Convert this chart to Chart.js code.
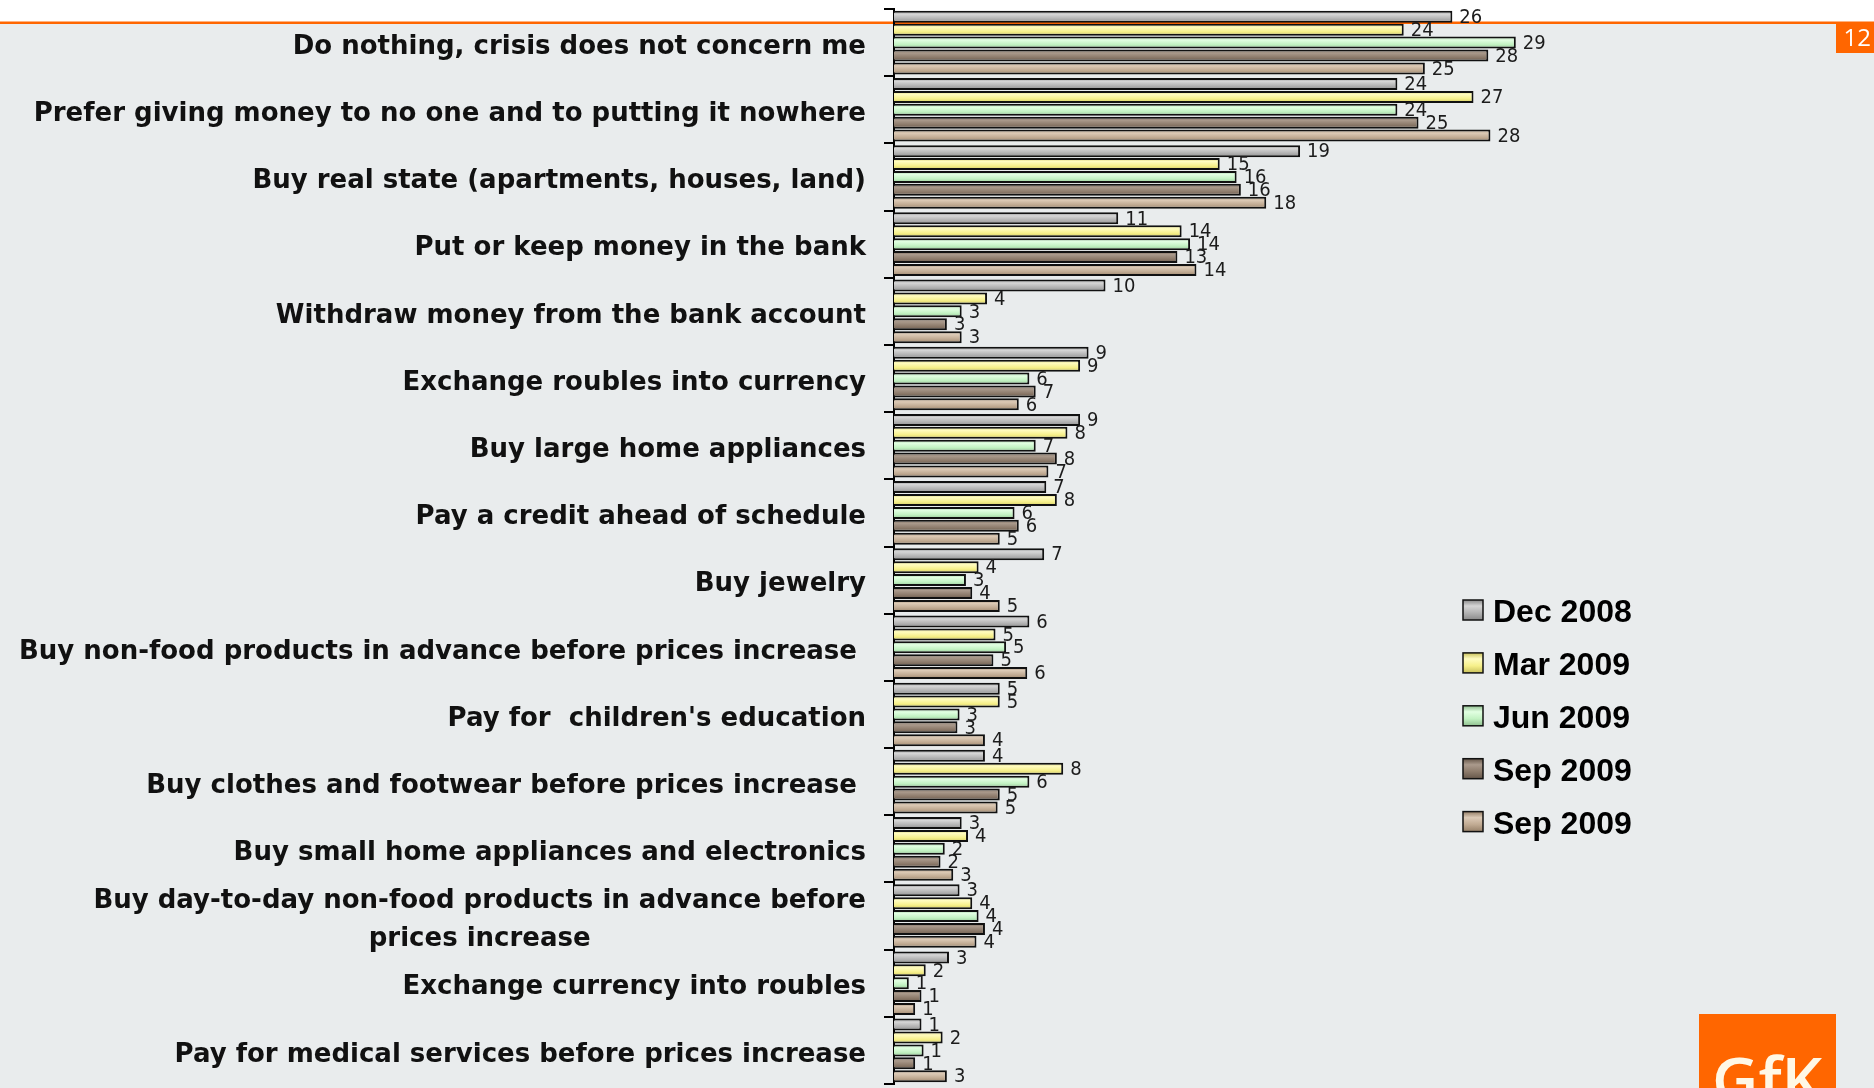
<!DOCTYPE html>
<html>
<head>
<meta charset="utf-8">
<script src="https://cdn.jsdelivr.net/npm/chart.js@4.4.1/dist/chart.umd.min.js"></script>
<style>
  html, body { margin: 0; padding: 0; background: #e9eced; }
  #wrap { position: relative; width: 1874px; height: 1088px; }
</style>
</head>
<body>
<div id="wrap"><canvas id="chart"></canvas></div>
<script>
const categories = [
  "Do nothing, crisis does not concern me",
  "Prefer giving money to no one and to putting it nowhere",
  "Buy real state (apartments, houses, land)",
  "Put or keep money in the bank",
  "Withdraw money from the bank account",
  "Exchange roubles into currency",
  "Buy large home appliances",
  "Pay a credit ahead of schedule",
  "Buy jewelry",
  "Buy non-food products in advance before prices increase ",
  "Pay for  children's education",
  "Buy clothes and footwear before prices increase ",
  "Buy small home appliances and electronics",
  ["Buy day-to-day non-food products in advance before", "prices increase"],
  "Exchange currency into roubles",
  "Pay for medical services before prices increase"
];

const seriesNames = ["Dec 2008", "Mar 2009", "Jun 2009", "Sep 2009", "Sep 2009"];

// % of respondents (labels show rounded values)
const dec2008 = [26.4, 23.8, 19.2, 10.6, 10.0, 9.2, 8.8, 7.2, 7.1, 6.4, 5.0, 4.3, 3.2, 3.1, 2.6, 1.3];
const mar2009 = [24.1, 27.4, 15.4, 13.6, 4.4, 8.8, 8.2, 7.7, 4.0, 4.8, 5.0, 8.0, 3.5, 3.7, 1.5, 2.3];
const jun2009 = [29.4, 23.8, 16.2, 14.0, 3.2, 6.4, 6.7, 5.7, 3.4, 5.3, 3.1, 6.4, 2.4, 4.0, 0.7, 1.4];
const sep2009a = [28.1, 24.8, 16.4, 13.4, 2.5, 6.7, 7.7, 5.9, 3.7, 4.7, 3.0, 5.0, 2.2, 4.3, 1.3, 1.0];
const sep2009b = [25.1, 28.2, 17.6, 14.3, 3.2, 5.9, 7.3, 5.0, 5.0, 6.3, 4.3, 4.9, 2.8, 3.9, 1.0, 2.5];

const seriesValues = [dec2008, mar2009, jun2009, sep2009a, sep2009b];

// base / highlight / shade for each series
const palette = [
  { base: "#b2b2b2", light: "#d6d6d6", dark: "#8a8a8a" },
  { base: "#f6f08a", light: "#fffcc0", dark: "#c9c15c" },
  { base: "#c2f2c2", light: "#e2ffe2", dark: "#8fbf8f" },
  { base: "#8c7a6a", light: "#aa9a8c", dark: "#66574a" },
  { base: "#c0aa92", light: "#dccab6", dark: "#968068" }
];

const CAT_PCT = 0.96;
const BAR_PCT = 0.93;
const ORANGE = "#ff6600";
const LABEL_FONT = "bold 26px 'DejaVu Sans', Verdana, sans-serif";
const VALUE_FONT = "20px 'DejaVu Sans Condensed', 'DejaVu Sans', sans-serif";
const LEGEND_FONT = "bold 32px 'Liberation Sans', Arial, sans-serif";

function shade(ctx, pal, top, h) {
  const g = ctx.createLinearGradient(0, top, 0, top + h);
  g.addColorStop(0, pal.dark);
  g.addColorStop(0.3, pal.light);
  g.addColorStop(0.65, pal.base);
  g.addColorStop(1, pal.dark);
  return g;
}

function barFill(i) {
  return function (c) {
    const pal = palette[i];
    const ys = c.chart.scales.y;
    if (c.type !== "data" || !ys || !ys.height) return pal.base;
    const catH = ys.height / categories.length * CAT_PCT;
    const pitch = catH / seriesNames.length;
    const top = ys.getPixelForValue(c.dataIndex) - catH / 2 + pitch * c.datasetIndex;
    return shade(c.chart.ctx, pal, top, pitch);
  };
}

// page background, orange rule, page number and logo block
const pageDecor = {
  id: "pageDecor",
  beforeDraw(chart) {
    const ctx = chart.ctx;
    const w = chart.width, h = chart.height;
    ctx.save();
    ctx.fillStyle = "#e9eced";
    ctx.fillRect(0, 0, w, h);
    ctx.fillStyle = "#ffffff";
    ctx.fillRect(0, 0, w, 22);
    ctx.fillStyle = ORANGE;
    ctx.fillRect(0, 21.5, w, 2.5);
    ctx.fillRect(1836, 22, w - 1836, 31);
    ctx.fillStyle = "#ffffff";
    ctx.font = "24px 'Open Sans', sans-serif";
    ctx.textAlign = "right";
    ctx.textBaseline = "alphabetic";
    ctx.fillText("12", 1871, 46);
    ctx.fillStyle = ORANGE;
    ctx.fillRect(1699, 1014, 137, h - 1014);
    ctx.fillStyle = "#fff8e6";
    ctx.font = "600 64px 'Open Sans', sans-serif";
    ctx.textAlign = "left";
    ctx.fillText("GfK", 1712, 1103);
    ctx.restore();
  }
};

// category labels; a wrapped label is a centred block whose right edge sits by the axis
const categoryLabels = {
  id: "categoryLabels",
  afterDraw(chart) {
    const ctx = chart.ctx;
    const ys = chart.scales.y;
    const right = 866;
    ctx.save();
    ctx.font = LABEL_FONT;
    ctx.fillStyle = "#111111";
    ctx.textBaseline = "middle";
    categories.forEach((lab, i) => {
      const y = ys.getPixelForValue(i) + 4.5;
      if (Array.isArray(lab)) {
        const lh = 38;
        const bw = Math.max(...lab.map(t => ctx.measureText(t).width));
        ctx.textAlign = "center";
        lab.forEach((t, k) => {
          ctx.fillText(t, right - bw / 2, y + (k - (lab.length - 1) / 2) * lh);
        });
      } else {
        ctx.textAlign = "right";
        ctx.fillText(lab, right, y);
      }
    });
    ctx.restore();
  }
};

// rounded value next to each bar; the bars of later series hide its overflow
const valueLabels = {
  id: "valueLabels",
  afterDatasetsDraw(chart) {
    const ctx = chart.ctx;
    const metas = chart.data.datasets.map((ds, di) => chart.getDatasetMeta(di));
    ctx.font = VALUE_FONT;
    ctx.fillStyle = "#1c1c1c";
    ctx.textAlign = "left";
    ctx.textBaseline = "middle";
    chart.data.datasets.forEach((ds, di) => {
      metas[di].data.forEach((bar, i) => {
        ctx.save();
        ctx.beginPath();
        ctx.rect(0, 0, chart.width, chart.height);
        for (let k = di + 1; k < metas.length; k++) {
          const b = metas[k].data[i];
          const { x, y, base, height } = b.getProps(["x", "y", "base", "height"], true);
          ctx.rect(Math.min(base, x), y - height / 2, Math.abs(x - base), height);
        }
        ctx.clip("evenodd");
        ctx.fillText(String(Math.round(ds.data[i])), bar.x + 7, bar.y + 1);
        ctx.restore();
      });
    });
  }
};

// legend on the right
const sideLegend = {
  id: "sideLegend",
  afterDraw(chart) {
    const ctx = chart.ctx;
    const x0 = 1463, size = 20, top = 610, step = 52.9;
    ctx.save();
    ctx.font = LEGEND_FONT;
    ctx.textAlign = "left";
    ctx.textBaseline = "alphabetic";
    seriesNames.forEach((name, i) => {
      const cy = top + i * step;
      ctx.fillStyle = shade(ctx, palette[i], cy - size / 2, size);
      ctx.fillRect(x0, cy - size / 2, size, size);
      ctx.strokeStyle = "#111111";
      ctx.lineWidth = 1.5;
      ctx.strokeRect(x0, cy - size / 2, size, size);
      ctx.fillStyle = "#000000";
      ctx.fillText(name, x0 + 30, cy + 12);
    });
    ctx.restore();
  }
};

const ctx = document.getElementById("chart").getContext("2d");

new Chart(ctx, {
  type: "bar",
  data: {
    labels: categories,
    datasets: seriesValues.map((vals, i) => ({
      label: seriesNames[i],
      data: vals,
      backgroundColor: barFill(i),
      borderColor: "#111111",
      borderWidth: 2,
      categoryPercentage: CAT_PCT,
      barPercentage: BAR_PCT
    }))
  },
  options: {
    indexAxis: "y",
    responsive: true,
    maintainAspectRatio: false,
    animation: false,
    events: [],
    layout: { padding: { top: 9, bottom: 4, left: 0, right: 134 } },
    plugins: {
      legend: { display: false },
      tooltip: { enabled: false }
    },
    scales: {
      x: { display: false, min: 0, max: 40 },
      y: {
        type: "category",
        offset: true,
        afterFit(scale) { scale.width = 894; },
        ticks: { display: false },
        grid: {
          offset: true,
          drawOnChartArea: false,
          drawTicks: true,
          tickLength: 10,
          color: "#000000",
          lineWidth: 2
        },
        border: { display: true, color: "#000000", width: 2 }
      }
    }
  },
  plugins: [pageDecor, categoryLabels, valueLabels, sideLegend]
});
</script>
</body>
</html>
